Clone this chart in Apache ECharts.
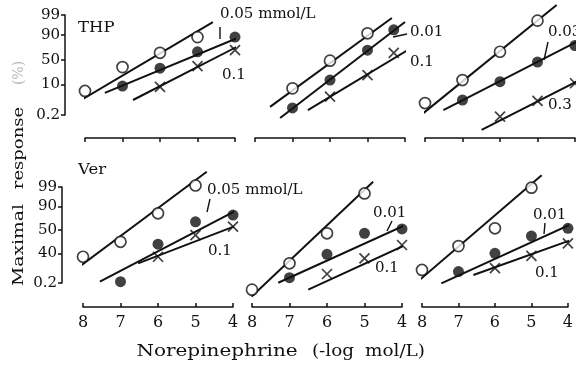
<!DOCTYPE html>
<html>
<head>
<meta charset="utf-8">
<script src="https://cdn.jsdelivr.net/npm/echarts@6/dist/echarts.min.js"></script>
<style>
html, body { margin: 0; padding: 0; background: #fff; }
#chart { width: 576px; height: 365px; }
</style>
</head>
<body>
<div id="chart"></div>
<script>
// x: norepinephrine (-log mol/L), y: maximal response (%)
const xTicks = [8, 7, 6, 5, 4];
const pctTicks = [0.2, 10, 50, 90, 99];
const thpTickLabels = ['0.2', '10', '50', '90', '99'];
const verTickLabels = ['0.2', '40', '50', '90', '99'];

// THP row
const thp1Open = [[8, 5.2], [7, 35], [6, 64], [5, 88]];
const thp1Filled = [[7, 8.5], [6, 33], [5, 66], [4, 88]];
const thp1Cross = [[6, 7.8], [5, 37], [4, 69]];
const thp1OpenFit = [[8.24, 1.2], [4.59, 97.5]];
const thp1FilledFit = [[7.47, 4.2], [3.55, 92.5]];
const thp1CrossFit = [[6.72, 1.8], [3.28, 91]];

const thp2Open = [[7, 6.8], [6, 48], [5, 91.5]];
const thp2Filled = [[7, 0.6], [6, 14.5], [5, 69], [4.3, 94]];
const thp2Cross = [[6, 2.7], [5, 21], [4.3, 64]];
const thp2OpenFit = [[7.6, 0.7], [4.35, 98.5]];
const thp2FilledFit = [[7.33, 0.12], [4.0, 97.5]];
const thp2CrossFit = [[6.59, 0.44], [3.79, 74.6]];

const thp3Open = [[8, 1.2], [7, 14.5], [6, 66], [5, 97.9]];
const thp3Filled = [[7, 1.8], [6, 12.6], [5, 45], [4, 77]];
const thp3Cross = [[6, 0.15], [5, 1.6], [4, 11]];
const thp3OpenFit = [[8.22, 0.11], [4.49, 99.78]];
const thp3FilledFit = [[7.51, 0.44], [3.97, 82]];
const thp3CrossFit = [[6.49, 0.013], [3.96, 12.6]];

// Ver row
const ver1Open = [[8, 7.3], [7, 26], [6, 81.6], [5, 99.2]];
const ver1Filled = [[7, 0.25], [6, 22], [5, 67], [4, 79]];
const ver1Cross = [[6, 7.3], [5, 39], [4, 57]];
const ver1OpenFit = [[8.15, 1.9], [4.7, 99.92]];
const ver1FilledFit = [[7.55, 0.25], [3.81, 87.9]];
const ver1CrossFit = [[6.53, 3.5], [3.41, 73.5]];

const ver2Open = [[8, 0.06], [7, 3.5], [6, 42.7], [5, 97.6]];
const ver2Filled = [[7, 0.48], [6, 9.3], [5, 42.7], [4, 52]];
const ver2Cross = [[6, 0.84], [5, 6.2], [4, 20.7]];
const ver2OpenFit = [[8.01, 0.015], [4.77, 99.55]];
const ver2FilledFit = [[7.3, 0.21], [3.73, 66.6]];
const ver2CrossFit = [[6.5, 0.06], [3.39, 37]];

const ver3Open = [[8, 1.5], [7, 19], [6, 53.5], [5, 98.9]];
const ver3Filled = [[7, 1.2], [6, 10.2], [5, 37], [4, 53.5]];
const ver3Cross = [[6, 1.9], [5, 7.9], [4, 23.4]];
const ver3OpenFit = [[8.23, 0.14], [4.72, 99.85]];
const ver3FilledFit = [[7.47, 0.19], [3.84, 64.6]];
const ver3CrossFit = [[6.59, 0.73], [3.92, 29]];

// inverse normal (probit scale for the y axis)
function probit(pct) {
    const p = pct / 100;
    const a = [-39.69683028665376, 220.9460984245205, -275.9285104469687, 138.3577518672690, -30.66479806614716, 2.506628277459239];
    const b = [-54.47609879822406, 161.5858368580409, -155.6989798598866, 66.80131188771972, -13.28068155288572];
    const c = [-0.007784894002430293, -0.3223964580411365, -2.400758277161838, -2.549732539343734, 4.374664141464968, 2.938163982698783];
    const d = [0.007784695709041462, 0.3224671290700398, 2.445134137142996, 3.754408661907416];
    const pl = 0.02425;
    let q, r;
    if (p < pl) {
        q = Math.sqrt(-2 * Math.log(p));
        return (((((c[0] * q + c[1]) * q + c[2]) * q + c[3]) * q + c[4]) * q + c[5]) / ((((d[0] * q + d[1]) * q + d[2]) * q + d[3]) * q + 1);
    }
    if (p > 1 - pl) {
        q = Math.sqrt(-2 * Math.log(1 - p));
        return -(((((c[0] * q + c[1]) * q + c[2]) * q + c[3]) * q + c[4]) * q + c[5]) / ((((d[0] * q + d[1]) * q + d[2]) * q + d[3]) * q + 1);
    }
    q = p - 0.5;
    r = q * q;
    return (((((a[0] * r + a[1]) * r + a[2]) * r + a[3]) * r + a[4]) * r + a[5]) * q / (((((b[0] * r + b[1]) * r + b[2]) * r + b[3]) * r + b[4]) * r + 1);
}

const ink = '#111';
const font = 'DejaVu Serif';
const zTicks = pctTicks.map(probit);

const panels = [
    [thp1Open, thp1Filled, thp1Cross, thp1OpenFit, thp1FilledFit, thp1CrossFit],
    [thp2Open, thp2Filled, thp2Cross, thp2OpenFit, thp2FilledFit, thp2CrossFit],
    [thp3Open, thp3Filled, thp3Cross, thp3OpenFit, thp3FilledFit, thp3CrossFit],
    [ver1Open, ver1Filled, ver1Cross, ver1OpenFit, ver1FilledFit, ver1CrossFit],
    [ver2Open, ver2Filled, ver2Cross, ver2OpenFit, ver2FilledFit, ver2CrossFit],
    [ver3Open, ver3Filled, ver3Cross, ver3OpenFit, ver3FilledFit, ver3CrossFit]
];

const grids = [
    { left: 85, top: 15, width: 150, height: 100 },
    { left: 255, top: 15, width: 150, height: 100 },
    { left: 425, top: 15, width: 150, height: 100 },
    { left: 83, top: 187, width: 150, height: 96 },
    { left: 252, top: 187, width: 150, height: 96 },
    { left: 422, top: 187, width: 150, height: 96 }
];

const xAxes = grids.map((g, i) => {
    const top = i < 3;
    return {
        gridIndex: i,
        type: 'value',
        min: 4,
        max: 8,
        interval: 1,
        inverse: true,
        offset: top ? 23 : 24,
        axisLine: { onZero: false, lineStyle: { color: ink, width: 1.5 } },
        axisTick: { inside: !top, length: 4, lineStyle: { color: ink, width: 1.5 } },
        axisLabel: {
            show: !top, color: ink, fontFamily: font, fontSize: 16, margin: 8,
            formatter: v => xTicks.includes(v) ? String(v) : ''
        },
        splitLine: { show: false }
    };
});

const yAxes = grids.map((g, i) => {
    const labels = i < 3 ? thpTickLabels : verTickLabels;
    return {
        gridIndex: i,
        type: 'value',
        min: probit(0.2),
        max: probit(99),
        show: i === 0 || i === 3,
        offset: i === 0 ? 20 : 21,
        axisLine: { show: true, onZero: false, lineStyle: { color: ink, width: 1.5 } },
        axisTick: { show: true, length: 4, customValues: zTicks, lineStyle: { color: ink, width: 1.5 } },
        axisLabel: {
            color: ink, fontFamily: font, fontSize: 15, margin: 5,
            customValues: zTicks,
            formatter: v => {
                const k = zTicks.findIndex(z => Math.abs(z - v) < 1e-6);
                return k >= 0 ? labels[k] : '';
            }
        },
        splitLine: { show: false }
    };
});

const toZ = arr => arr.map(([x, p]) => [x, probit(p)]);
const crossPath = 'path://M0,0L10,10M10,0L0,10';

const series = [];
panels.forEach((p, i) => {
    [p[3], p[4], p[5]].forEach(fit => {
        series.push({
            type: 'line', xAxisIndex: i, yAxisIndex: i, data: toZ(fit),
            symbol: 'none', clip: false, silent: true, z: 2,
            lineStyle: { color: ink, width: 2 }
        });
    });
    series.push({
        type: 'scatter', xAxisIndex: i, yAxisIndex: i, data: toZ(p[0]),
        symbol: 'circle', symbolSize: 11, clip: false, z: 3,
        itemStyle: { color: '#fff', borderColor: ink, borderWidth: 1.7 }
    });
    series.push({
        type: 'scatter', xAxisIndex: i, yAxisIndex: i, data: toZ(p[1]),
        symbol: 'circle', symbolSize: 11, clip: false, z: 3,
        itemStyle: { color: ink }
    });
    series.push({
        type: 'scatter', xAxisIndex: i, yAxisIndex: i, data: toZ(p[2]),
        symbol: crossPath, symbolSize: 10, clip: false, z: 3,
        itemStyle: { color: 'none', borderColor: ink, borderWidth: 1.7 }
    });
});

function txt(text, x, y, opts) {
    return Object.assign({
        type: 'text', x: x, y: y, z: 10,
        style: Object.assign({
            text: text, fill: ink, font: '15px "' + font + '"',
            align: 'left', verticalAlign: 'middle'
        }, (opts && opts.style) || {})
    }, opts ? { rotation: opts.rotation || 0, scaleX: opts.scaleX || 1 } : {});
}
function seg(x1, y1, x2, y2) {
    return { type: 'line', z: 10, shape: { x1, y1, x2, y2 }, style: { stroke: ink, lineWidth: 1.4 } };
}

const graphics = [
    txt('THP', 78, 28, { style: { font: '15px "' + font + '"' }, scaleX: 1.1 }),
    txt('Ver', 78, 170, { style: { font: '15px "' + font + '"' }, scaleX: 1.1 }),
    txt('0.05 mmol/L', 220, 14),
    seg(220, 27, 220, 39),
    txt('0.1', 222, 75),
    txt('0.01', 410, 32),
    seg(393, 37, 407, 34),
    txt('0.1', 410, 62),
    txt('0.03', 548, 32),
    seg(548, 42, 544, 60),
    txt('0.3', 548, 105),
    txt('0.05 mmol/L', 207, 190),
    seg(210, 199, 207, 212),
    txt('0.1', 208, 251),
    txt('0.01', 373, 213),
    seg(392, 221, 387, 231),
    txt('0.1', 375, 268),
    txt('0.01', 533, 215),
    seg(545, 223, 544, 234),
    txt('0.1', 535, 273),
    // axis titles
    txt('Maximal', 19, 245, { rotation: Math.PI / 2, scaleX: 1.25, style: { align: 'center', font: '15px "' + font + '"' } }),
    txt('response', 19, 148, { rotation: Math.PI / 2, scaleX: 1.2, style: { align: 'center', font: '15px "' + font + '"' } }),
    txt('(%)', 19, 73, { rotation: Math.PI / 2, style: { align: 'center', fill: '#b8b8b8', font: '14px "' + font + '"' } }),
    txt('Norepinephrine', 217, 352, { scaleX: 1.25, style: { align: 'center', font: '16px "' + font + '"' } }),
    txt('(-log', 333, 352, { scaleX: 1.15, style: { align: 'center', font: '16px "' + font + '"' } }),
    txt('mol/L)', 395, 352, { scaleX: 1.15, style: { align: 'center', font: '16px "' + font + '"' } })
];

const chart = echarts.init(document.getElementById('chart'), null, { renderer: 'canvas' });
chart.setOption({
    animation: false,
    backgroundColor: '#fff',
    grid: grids,
    xAxis: xAxes,
    yAxis: yAxes,
    series: series,
    graphic: graphics
});
</script>
</body>
</html>
